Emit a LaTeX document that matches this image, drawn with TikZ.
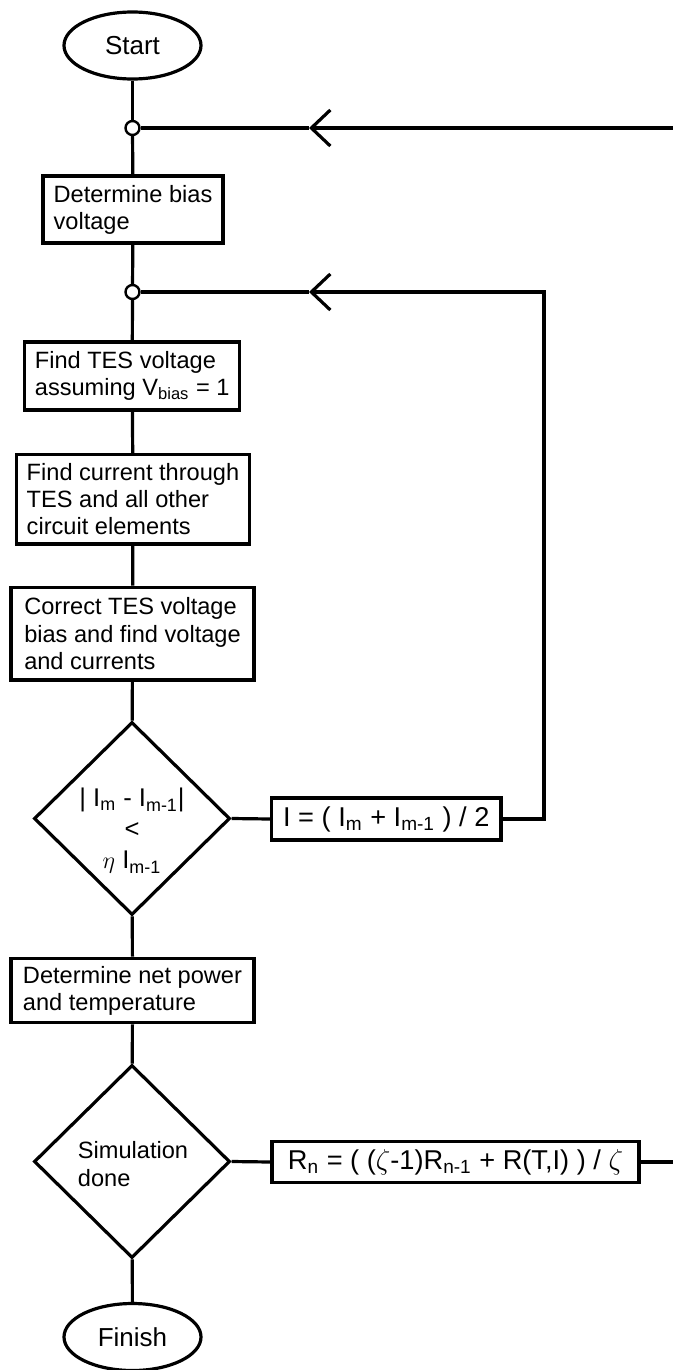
\documentclass[tikz,border=0pt]{standalone}
\usepackage{fontspec}
\setmainfont{Liberation Sans}
\usetikzlibrary{arrows.meta}
\usetikzlibrary{shapes.geometric}
\usetikzlibrary{positioning}

\tikzset{
  flow/.style={line width=1.6pt},
  procbox/.style={draw,line width=1.6pt,rectangle,align=left,inner xsep=5pt,inner ysep=0pt,fill=white},
  termbox/.style={draw,line width=1.6pt,ellipse,minimum width=68.5pt,minimum height=33.5pt,inner sep=0pt,font=\fontsize{13}{15}\selectfont},
  decbox/.style={draw,line width=1.6pt,diamond,minimum width=98pt,minimum height=96.5pt,inner sep=0pt},
  joint/.style={circle,draw,fill=white,line width=1.2pt,minimum size=7pt,inner sep=0pt},
  barb/.style={-{Straight Barb[length=9.5pt,width=18pt,line width=1.6pt]}},
  eqbox/.style={procbox,align=center,font=\fontsize{13.6}{15}\selectfont},
}

\begin{document}
\begin{tikzpicture}[x=0.5pt,y=-0.5pt,font=\fontsize{11.8}{13.6}\selectfont]
\useasboundingbox (0,0) rectangle (673,1370);

% main column
\node[termbox] (start) at (132.5,45.5) {Start};
\node[joint] (j1) at (132.5,128) {};
\node[procbox,minimum width=90pt,minimum height=33.5pt] (bias) at (133,209.5) {Determine bias\\voltage};
\node[joint] (j2) at (132.5,292) {};
\node[procbox,minimum width=106.5pt,minimum height=34pt] (tesv) at (132.2,376) {Find TES voltage\\assuming V\textsubscript{bias} = 1};
\node[procbox,minimum width=116.3pt,minimum height=44.8pt] (curr) at (133,499.2) {Find current through\\TES and all other\\circuit elements};
\node[procbox,minimum width=121.5pt,minimum height=46.3pt] (corr) at (132.5,633.6) {Correct TES voltage\\bias and find voltage\\and currents};
\node[decbox] (dec1) at (132,818.5) {};
\node[align=center,font=\fontsize{12.8}{15.5}\selectfont] (dec1txt) at (132,831) {| I\textsubscript{m} - I\textsubscript{m-1}|\\<\\$\eta$ I\textsubscript{m-1}};
\node[procbox,minimum width=121.5pt,minimum height=32.2pt] (power) at (132.5,990.5) {Determine net power\\and temperature};
\node[decbox] (dec2) at (132,1161.5) {};
\node[align=left] (dec2txt) at (133,1164) {Simulation\\done};
\node[termbox] (fin) at (132.5,1337) {Finish};

% side boxes
\node[eqbox,minimum width=114.7pt,minimum height=21pt] (avg) at (386.3,819) {I = ( I\textsubscript{m} + I\textsubscript{m-1} ) / 2};
\node[eqbox,minimum width=183.5pt,minimum height=20.5pt] (rn) at (455.5,1162) {R\textsubscript{n} = ( ($\zeta$-1)R\textsubscript{n-1} + R(T,I) ) / $\zeta$};

\coordinate (edge1) at (673,128);
\coordinate (arr1) at (309,128);
\coordinate (turn2) at (544,292);
\coordinate (arr2) at (309,292);
\coordinate (edge2) at (673,1162);

% connectors
\draw[flow] (start) -- (j1);
\draw[flow] (j1) -- (bias);
\draw[flow] (bias) -- (j2);
\draw[flow] (j2) -- (tesv);
\draw[flow] (tesv) -- (curr);
\draw[flow] (curr) -- (corr);
\draw[flow] (corr) -- (dec1);
\draw[flow] (dec1) -- (power);
\draw[flow] (power) -- (dec2);
\draw[flow] (dec2) -- (fin);

% current loop
\draw[flow] (dec1.east) -- (avg.west);
\draw[flow,barb] (avg.east) -| (turn2) -- (arr2);
\draw[flow] (arr2) -- (j2);

% resistance loop
\draw[flow] (dec2.east) -- (rn.west);
\draw[flow] (rn.east) -- (edge2);
\draw[flow,barb] (edge1) -- (arr1);
\draw[flow] (arr1) -- (j1);
\end{tikzpicture}
\end{document}
